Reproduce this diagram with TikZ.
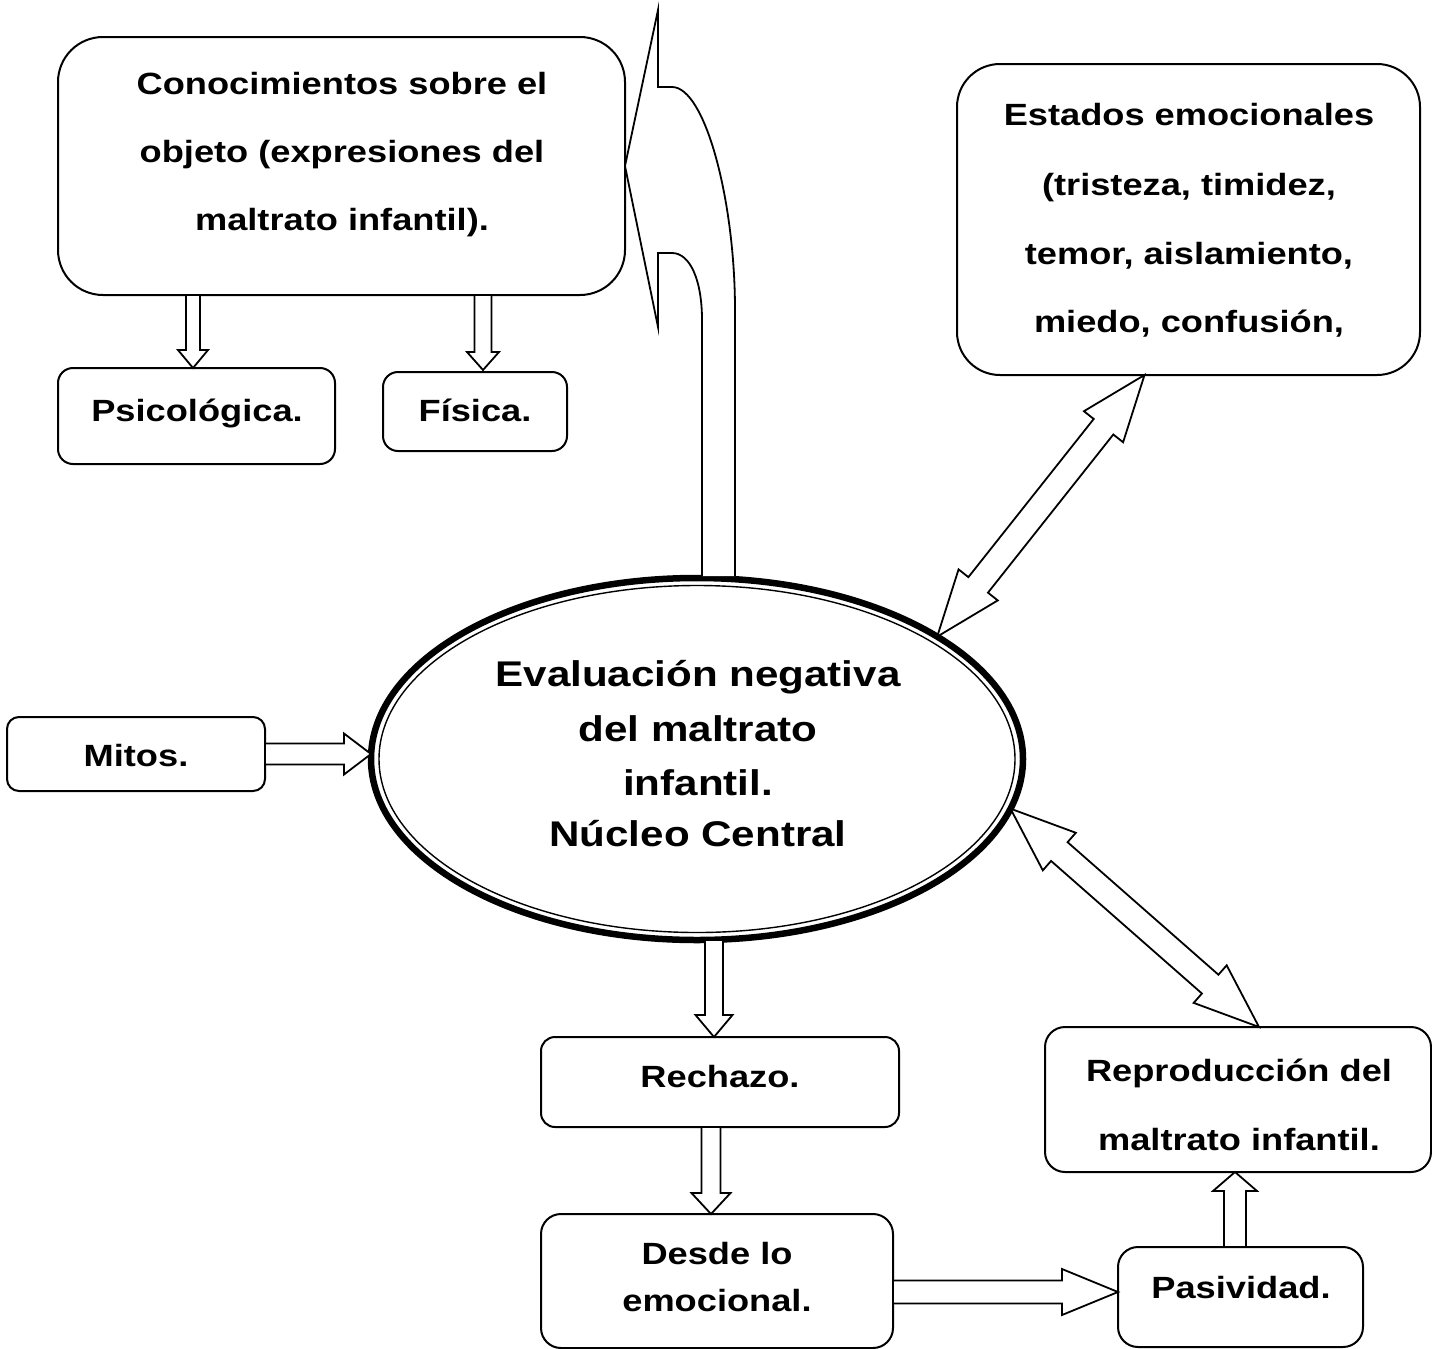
\documentclass[tikz,border=0pt]{standalone}
\usepackage{fontspec}
\newfontfamily\heavy{Liberation Sans}[FakeStretch=1.18]
\usetikzlibrary{calc,shapes.geometric}

\newcommand\blockarrow[5]{%
  \coordinate (hA) at ($(#2)!#4pt!(#1)$);
  \draw[arr] ($(#1)!#3pt!90:(#2)$) -- ($(hA)!#3pt!90:(#2)$) -- ($(hA)!#5pt!90:(#2)$) -- (#2)
    -- ($(hA)!#5pt!-90:(#2)$) -- ($(hA)!#3pt!-90:(#2)$) -- ($(#1)!#3pt!-90:(#2)$) -- cycle;}

\newcommand\dblarrow[5]{%
  \coordinate (hA) at ($(#1)!#4pt!(#2)$);
  \coordinate (hB) at ($(#2)!#4pt!(#1)$);
  \draw[arr] (#1) -- ($(hA)!#5pt!90:(#2)$) -- ($(hA)!#3pt!90:(#2)$) -- ($(hB)!#3pt!90:(#2)$)
    -- ($(hB)!#5pt!90:(#2)$) -- (#2) -- ($(hB)!#5pt!-90:(#2)$) -- ($(hB)!#3pt!-90:(#2)$)
    -- ($(hA)!#3pt!-90:(#2)$) -- ($(hA)!#5pt!-90:(#2)$) -- cycle;}

\tikzset{
  box/.style={draw, line width=2pt, inner sep=0pt, outer sep=0pt},
  arr/.style={draw, line width=1.8pt, fill=white, line join=miter},
  txt/.style={anchor=base, inner sep=0pt, font=\heavy\bfseries\fontsize{30.7}{36}\selectfont},
  bigtxt/.style={anchor=base, inner sep=0pt, font=\heavy\bfseries\fontsize{35.7}{42}\selectfont}
}

\begin{document}
\begin{tikzpicture}[x=1pt, y=-1pt]
\useasboundingbox (0,0) rectangle (1432,1349);

% boxes
\node[box, rounded corners=45pt, minimum width=567pt, minimum height=258pt] (cono) at (341.5,166) {};
\node[box, rounded corners=15pt, minimum width=277pt, minimum height=96pt] (psico) at (196.5,416) {};
\node[box, rounded corners=15pt, minimum width=184pt, minimum height=79pt] (fis) at (475,411.5) {};
\node[box, rounded corners=43pt, minimum width=463pt, minimum height=311pt] (est) at (1188.5,219.5) {};
\node[box, rounded corners=12pt, minimum width=258pt, minimum height=74pt] (mit) at (136,754) {};
\node[box, rounded corners=14pt, minimum width=358pt, minimum height=90pt] (rech) at (720,1082) {};
\node[box, rounded corners=20pt, minimum width=352pt, minimum height=134pt] (des) at (717,1281) {};
\node[box, rounded corners=20pt, minimum width=245pt, minimum height=100pt] (pas) at (1240.5,1297) {};
\node[box, rounded corners=20pt, minimum width=386pt, minimum height=145pt] (rep) at (1238,1099.5) {};

% central ellipse
\node[ellipse, draw, line width=6.5pt, minimum width=652pt, minimum height=362pt, inner sep=0pt, outer sep=0pt] (core) at (697,759) {};
\node[ellipse, draw, line width=1.4pt, minimum width=636pt, minimum height=347pt, inner sep=0pt, outer sep=0pt] (coreIn) at (core.center) {};

% texts
\node[txt] (cono1) at (342,94) {Conocimientos sobre el};
\node[txt] (cono2) at (342,162) {objeto (expresiones del};
\node[txt] (cono3) at (342,230) {maltrato infantil).};
\node[txt] (psicoT) at (197,421) {Psicológica.};
\node[txt] (fisT) at (475,421) {Física.};
\node[txt] (est1) at (1189,125) {Estados emocionales};
\node[txt] (est2) at (1189,195) {(tristeza, timidez,};
\node[txt] (est3) at (1189,264) {temor, aislamiento,};
\node[txt] (est4) at (1189,332) {miedo, confusión,};
\node[txt] (mitT) at (136,766) {Mitos.};
\node[txt] (rechT) at (720,1087) {Rechazo.};
\node[txt] (des1) at (717,1264) {Desde lo};
\node[txt] (des2) at (717,1311) {emocional.};
\node[txt] (pasT) at (1241,1298) {Pasividad.};
\node[txt] (rep1) at (1239,1081) {Reproducción del};
\node[txt] (rep2) at (1239,1150) {maltrato infantil.};
\node[bigtxt] (core1) at (698,686) {Evaluación negativa};
\node[bigtxt] (core2) at (698,741) {del maltrato};
\node[bigtxt] (core3) at (698,795) {infantil.};
\node[bigtxt] (core4) at (698,846) {Núcleo Central};

% connectors
\coordinate (a1s) at ([xshift=-148.5pt]cono.south);
\coordinate (a1e) at (a1s |- psico.north);
\blockarrow{a1s}{a1e}{7}{18}{15}
\coordinate (a2s) at ([xshift=141.5pt]cono.south);
\coordinate (a2e) at ([yshift=2pt]a2s |- fis.north);
\blockarrow{a2s}{a2e}{8.5}{18}{16}
\coordinate (a3s) at (mit.east);
\coordinate (a3e) at (core.west |- mit.east);
\blockarrow{a3s}{a3e}{10.5}{27}{20.5}
\coordinate (a4e) at ([xshift=-6pt]rech.north);
\coordinate (a4s) at (a4e |- core.south);
\blockarrow{a4s}{a4e}{9}{22}{18.5}
\coordinate (a5s) at ([xshift=-9pt]rech.south);
\coordinate (a5e) at (a5s |- des.north);
\blockarrow{a5s}{a5e}{9.5}{21}{19.5}
\coordinate (a6s) at ([yshift=-11pt]des.east);
\coordinate (a6e) at (a6s -| pas.west);
\blockarrow{a6s}{a6e}{11.5}{56}{23}
\coordinate (a7s) at ([xshift=-5.5pt]pas.north);
\coordinate (a7e) at (a7s |- rep.south);
\blockarrow{a7s}{a7e}{11}{19}{22}

\coordinate (d1a) at (core.27);
\coordinate (d1b) at ([xshift=-44pt]est.south);
\dblarrow{d1a}{d1b}{12.5}{66}{25}
\coordinate (d2a) at (core.-9);
\coordinate (d2b) at ([xshift=21pt]rep.north);
\dblarrow{d2a}{d2b}{12.5}{65}{25}

% big curved arrow from the core to the knowledge box
\coordinate (bTip) at (cono.east);
\draw[arr] (702,576) -- (702,320) .. controls (702,280) and (690,253) .. (672,253)
  -- (658,253) -- (658,327) -- (bTip) -- (658,10) -- (658,87) -- (672,87)
  .. controls (705,87) and (735,200) .. (735,310) -- (735,576);
\end{tikzpicture}
\end{document}
